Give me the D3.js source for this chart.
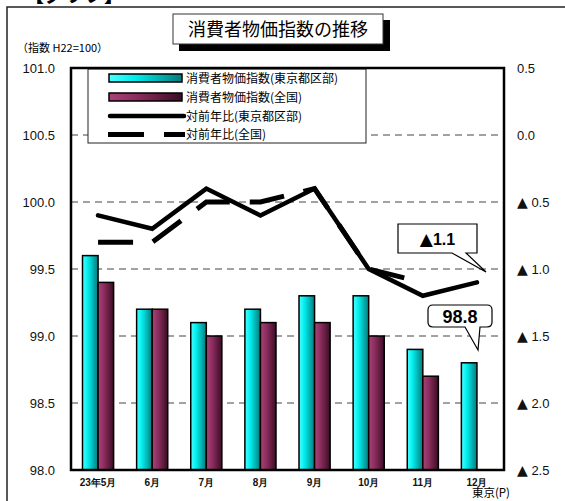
<!DOCTYPE html>
<html>
<head>
<meta charset="utf-8">
<script src="https://cdn.jsdelivr.net/npm/d3@7"></script>
<style>
  html, body { margin: 0; padding: 0; background: #fff; }
  svg { display: block; }
  text { font-family: "Liberation Sans", Arial, sans-serif; }
  .jp { font-family: "Noto Sans CJK JP", sans-serif; }
  .tri { font-family: "DejaVu Sans", sans-serif; }
</style>
</head>
<body>
<svg id="chart" width="565" height="501"></svg>
<script>
// Months on the category axis
const months = ["23年5月", "6月", "7月", "8月", "9月", "10月", "11月", "12月"];
// Consumer price index (H22 = 100)
const cpiTokyo    = [99.6, 99.2, 99.1, 99.2, 99.3, 99.3, 98.9, 98.8];
const cpiNational = [99.4, 99.2, 99.0, 99.1, 99.1, 99.0, 98.7, null];
// Year-on-year change (%)
const yoyTokyo    = [-0.6, -0.7, -0.4, -0.6, -0.4, -1.0, -1.2, -1.1];
const yoyNational = [-0.8, -0.8, -0.5, -0.5, -0.4, -1.0, -1.1, null];
// Axis ticks
const leftTicks  = [98.0, 98.5, 99.0, 99.5, 100.0, 100.5, 101.0];
const rightTicks = [-2.5, -2.0, -1.5, -1.0, -0.5, 0.0, 0.5];
const legendLabels = ["消費者物価指数(東京都区部)", "消費者物価指数(全国)", "対前年比(東京都区部)", "対前年比(全国)"];

const svg = d3.select("#chart");
const plot = { left: 71, right: 504, top: 68, bottom: 470 };

const x = d3.scaleBand().domain(months).range([plot.left, plot.right]);
const xSub = d3.scaleBand().domain(["tokyo", "national"])
  .range([0, x.bandwidth()]).paddingInner(0).paddingOuter(0.74);
const yL = d3.scaleLinear().domain([98, 101]).range([plot.bottom, plot.top]);
const yR = d3.scaleLinear().domain([-2.5, 0.5]).range([plot.bottom, plot.top]);

// Gradients for the bars
const defs = svg.append("defs");
function grad(id, stops) {
  const g = defs.append("linearGradient").attr("id", id)
    .attr("x1", "0%").attr("x2", "100%").attr("y1", "0%").attr("y2", "0%");
  stops.forEach(([o, c]) => g.append("stop").attr("offset", o).attr("stop-color", c));
}
grad("gCyan", [["0%", "#4dffff"], ["35%", "#00eded"], ["100%", "#067a7a"]]);
grad("gMaroon", [["0%", "#a8437a"], ["40%", "#8a2c5c"], ["100%", "#3a0d24"]]);

// Outer frame (runs off the right and bottom edges)
svg.append("path").attr("d", "M7,520 L7,7 L580,7")
  .attr("fill", "none").attr("stroke", "#222").attr("stroke-width", 1.5);

// Clipped heading at the very top
svg.append("text").attr("class", "jp").attr("x", 24).attr("y", 2)
  .attr("font-size", 20).attr("font-weight", "bold").text("【グラフ】");

// Title box with drop shadow
const title = svg.append("g");
title.append("rect").attr("x", 179).attr("y", 20).attr("width", 211).attr("height", 31).attr("fill", "#000");
title.append("rect").attr("x", 173).attr("y", 14).attr("width", 210).attr("height", 30)
  .attr("fill", "#fff").attr("stroke", "#333").attr("stroke-width", 1);
title.append("text").attr("class", "jp").attr("x", 278).attr("y", 35.5)
  .attr("text-anchor", "middle").attr("font-size", 18).text("消費者物価指数の推移");

svg.append("text").attr("class", "jp").attr("x", 17).attr("y", 52)
  .attr("font-size", 11).text("（指数 H22=100）");

// Dashed gridlines
svg.append("g").selectAll("line")
  .data(leftTicks.filter(v => v > 98 && v < 101))
  .join("line")
  .attr("x1", plot.left).attr("x2", plot.right)
  .attr("y1", d => yL(d)).attr("y2", d => yL(d))
  .attr("stroke", "#444").attr("stroke-width", 1).attr("stroke-dasharray", "7,5");

// Bars
const groups = svg.append("g").selectAll("g")
  .data(months.map((m, i) => ({ m, tokyo: cpiTokyo[i], national: cpiNational[i] })))
  .join("g").attr("transform", d => `translate(${x(d.m)},0)`);
groups.selectAll("rect")
  .data(d => [["tokyo", d.tokyo], ["national", d.national]].filter(e => e[1] != null))
  .join("rect")
  .attr("x", d => xSub(d[0]))
  .attr("y", d => yL(d[1]))
  .attr("width", xSub.bandwidth())
  .attr("height", d => plot.bottom - yL(d[1]))
  .attr("fill", d => d[0] === "tokyo" ? "url(#gCyan)" : "url(#gMaroon)")
  .attr("stroke", "#000").attr("stroke-width", 1.5);

// Legend
const lg = svg.append("g");
lg.append("rect").attr("x", 88).attr("y", 69).attr("width", 278).attr("height", 74)
  .attr("fill", "#fff").attr("stroke", "#222").attr("stroke-width", 1);
const rowY = [78, 97, 116, 134.5];
lg.append("rect").attr("x", 109).attr("y", rowY[0] - 4).attr("width", 73).attr("height", 8)
  .attr("fill", "url(#gCyan)").attr("stroke", "#000").attr("stroke-width", 1.5);
lg.append("rect").attr("x", 109).attr("y", rowY[1] - 4).attr("width", 73).attr("height", 8)
  .attr("fill", "url(#gMaroon)").attr("stroke", "#000").attr("stroke-width", 1.5);
lg.append("line").attr("x1", 110).attr("x2", 184).attr("y1", rowY[2]).attr("y2", rowY[2])
  .attr("stroke", "#000").attr("stroke-width", 4.5).attr("stroke-linecap", "round");
lg.append("line").attr("x1", 108).attr("x2", 185).attr("y1", rowY[3]).attr("y2", rowY[3])
  .attr("stroke", "#000").attr("stroke-width", 5).attr("stroke-dasharray", "36,20");
lg.selectAll("text.lab").data(legendLabels).join("text")
  .attr("class", "jp lab").attr("x", 186).attr("y", (d, i) => rowY[i] + 4.5)
  .attr("font-size", 12).text(d => d);

// Year-on-year lines
const lineGen = d3.line()
  .defined(d => d.v != null)
  .x(d => x(d.m) + x.bandwidth() / 2)
  .y(d => yR(d.v));
svg.append("path")
  .datum(months.map((m, i) => ({ m, v: yoyNational[i] })))
  .attr("d", lineGen).attr("fill", "none").attr("stroke", "#000")
  .attr("stroke-width", 5).attr("stroke-dasharray", "35,20").attr("stroke-linejoin", "miter");
svg.append("path")
  .datum(months.map((m, i) => ({ m, v: yoyTokyo[i] })))
  .attr("d", lineGen).attr("fill", "none").attr("stroke", "#000")
  .attr("stroke-width", 4.5).attr("stroke-linejoin", "miter").attr("stroke-linecap", "round");

// Plot frame
svg.append("rect").attr("x", plot.left).attr("y", plot.top)
  .attr("width", plot.right - plot.left).attr("height", plot.bottom - plot.top)
  .attr("fill", "none").attr("stroke", "#000").attr("stroke-width", 2.5);

// Axes
const axL = svg.append("g").attr("transform", `translate(${plot.left},0)`)
  .call(d3.axisLeft(yL).tickValues(leftTicks).tickSize(0).tickPadding(16).tickFormat(d3.format(".1f")));
axL.select(".domain").remove();
axL.selectAll("text").attr("font-size", 13).attr("fill", "#111")
  .attr("font-family", "'Liberation Sans', Arial, sans-serif");

// Right axis: negative values are written with a leading ▲
const axR = svg.append("g").attr("transform", `translate(${plot.right},0)`)
  .call(d3.axisRight(yR).tickValues(rightTicks).tickSize(0).tickPadding(13).tickFormat(""));
axR.select(".domain").remove();
axR.selectAll(".tick text").each(function(v) {
  const t = d3.select(this).text(null).attr("font-size", 13).attr("fill", "#111");
  if (v < 0) {
    t.append("tspan").attr("class", "tri").attr("font-size", 14).text("▲");
    t.append("tspan").text(" " + Math.abs(v).toFixed(1));
  } else {
    t.append("tspan").text(v.toFixed(1));
  }
});

const axB = svg.append("g").attr("transform", `translate(0,${plot.bottom})`)
  .call(d3.axisBottom(x).tickSize(0).tickPadding(9));
axB.select(".domain").remove();
axB.selectAll("text").attr("font-size", 10).attr("font-weight", "bold").attr("fill", "#111")
  .attr("font-family", "'Noto Sans CJK JP', sans-serif");
svg.append("text").attr("class", "jp").attr("x", x(months[7]) + x.bandwidth() / 2 + 14).attr("y", 497)
  .attr("text-anchor", "middle").attr("font-size", 11.5).text("東京(P)");

// Callouts for the latest Tokyo values
const last = months.length - 1;
const yoyLast = yoyTokyo[last];
const cpiLast = cpiTokyo[last];
const c1 = svg.append("g");
c1.append("path")
  .attr("d", "M398,224 H477 V253 H466 L486,272 L452,253 H398 Z")
  .attr("fill", "#fff").attr("stroke", "#000").attr("stroke-width", 1.2);
const t1 = c1.append("text").attr("x", 437.5).attr("y", 245).attr("text-anchor", "middle")
  .attr("font-size", 16).attr("font-weight", "bold");
t1.append("tspan").attr("class", "tri").attr("font-size", 17).attr("font-weight", "normal").text("▲");
t1.append("tspan").text(Math.abs(yoyLast).toFixed(1));
const c2 = svg.append("g");
c2.append("path")
  .attr("d", "M433,305 H487 Q492,305 492,310 V322 Q492,327 487,327 H480 L478,350 L465,327 H433 Q428,327 428,322 V310 Q428,305 433,305 Z")
  .attr("fill", "#fff").attr("stroke", "#000").attr("stroke-width", 1.2);
c2.append("text").attr("x", 460).attr("y", 323).attr("text-anchor", "middle")
  .attr("font-size", 18).attr("font-weight", "bold")
  .text(cpiLast.toFixed(1));
</script>
</body>
</html>
